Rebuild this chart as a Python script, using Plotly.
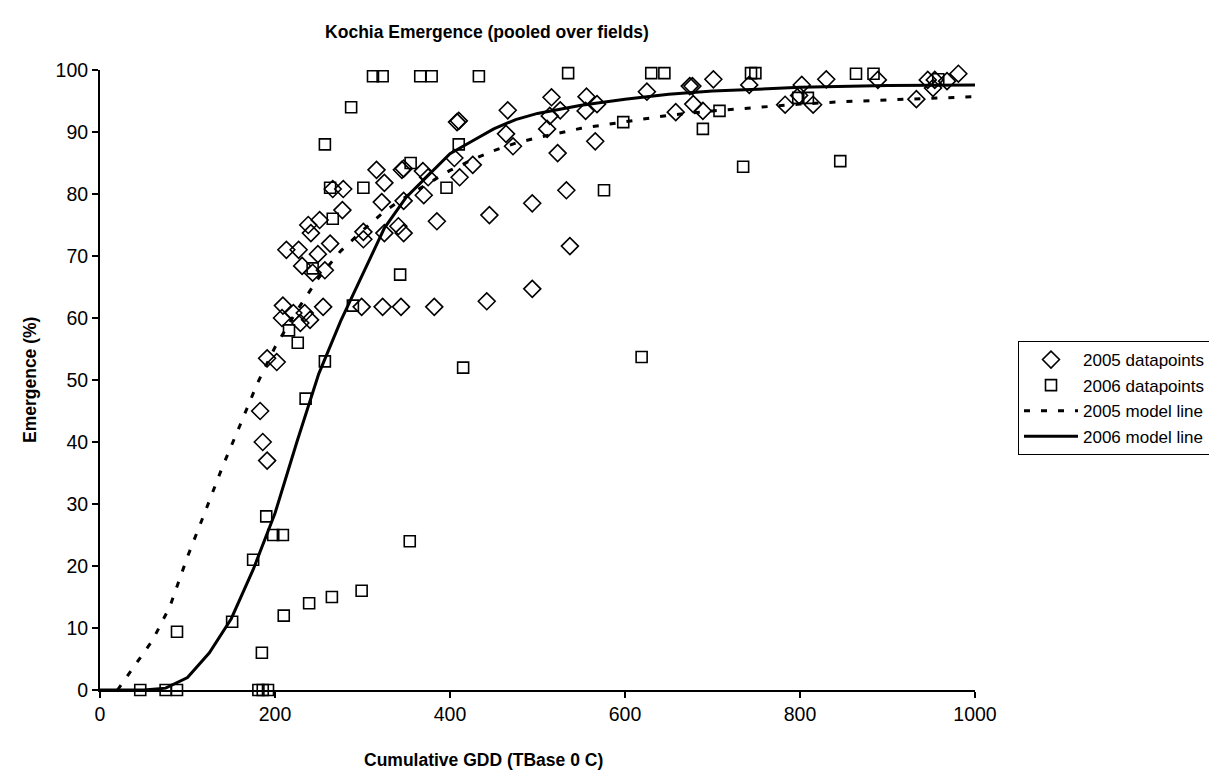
import plotly.graph_objects as go

# ---- data ----
# 2005 datapoints (Cumulative GDD, Emergence %)
x2005 = [183, 186, 191, 191, 202, 209, 208, 221, 234, 240, 229,
         255, 299, 323, 344, 382, 442, 494,
         213, 227, 231, 243, 257, 249, 263,
         238, 241, 251, 277, 266, 278,
         301, 301, 316, 325, 322, 325,
         341, 347, 345, 347, 347, 369, 370, 375,
         385, 408, 410, 405, 411, 426, 445,
         466, 464, 472, 494, 511, 514, 516, 523, 526, 533, 537,
         555, 556, 566, 568, 625, 658, 674, 677, 678, 689, 701,
         742, 783, 799, 802, 815, 830, 889, 933, 946, 952, 954, 968, 981]
y2005 = [45, 40, 37, 53.5, 52.9, 62, 60, 60.8, 60.8, 59.7, 59.2,
         61.8, 61.8, 61.8, 61.8, 61.8, 62.7, 64.7,
         71, 71, 68.4, 67.3, 67.7, 70.3, 72,
         75, 73.7, 75.8, 77.4, 80.8, 80.8,
         73.9, 72.7, 83.9, 81.8, 78.7, 73.7,
         74.8, 73.7, 83.9, 84.1, 78.9, 83.7, 79.8, 82.7,
         75.6, 91.6, 91.8, 85.8, 82.7, 84.7, 76.6,
         93.5, 89.7, 87.7, 78.5, 90.5, 92.6, 95.6, 86.6, 93.5, 80.6, 71.6,
         93.4, 95.7, 88.5, 94.5, 96.5, 93.2, 97.4, 97.4, 94.5, 93.4, 98.5,
         97.6, 94.4, 95.9, 97.6, 94.4, 98.5, 98.4, 95.3, 98.4, 97.1, 98.4, 98.2, 99.4]

# 2006 datapoints
x2006 = [46, 75, 88, 88, 181, 186, 192,
         185, 151, 175, 190, 198, 209, 210, 239, 265, 299, 354,
         235, 257, 216, 226, 289, 243, 266, 263, 301, 257, 287,
         312, 323, 366, 379, 433, 535, 630, 645, 744, 749, 864, 884, 958, 1001,
         343, 355, 396, 410, 415, 576, 598, 619, 689, 708, 735, 798, 809, 846]
y2006 = [0, 0, 0, 9.4, 0, 0, 0,
         6, 11, 21, 28, 25, 25, 12, 14, 15, 16, 24,
         47, 53, 58, 56, 62, 68, 76, 81, 81, 88, 94,
         99, 99, 99, 99, 99, 99.5, 99.5, 99.5, 99.5, 99.5, 99.4, 99.4, 98.5, 98.2,
         67, 85, 81, 88, 52, 80.6, 91.6, 53.7, 90.5, 93.4, 84.4, 95.5, 95.5, 85.3]

# 2005 model line
x2005_model = [20, 40, 60, 80, 100, 120, 140, 160, 180, 200, 225, 250, 275, 300,
               325, 350, 375, 400, 425, 450, 475, 500, 550, 600, 650, 700,
               750, 800, 850, 900, 1000]
y2005_model = [0, 4, 8, 13.5, 21.5, 28.7, 36, 42.7, 49.5, 55.3, 61.2, 66.5, 70.8, 74.1,
               77.2, 79.6, 81.7, 83.8, 85.5, 87, 88.2, 89.1, 90.6, 91.7, 92.7, 93.4,
               94, 94.5, 94.9, 95.2, 95.7]

# 2006 model line
x2006_model = [0, 50, 75, 100, 125, 150, 175, 200, 225, 250, 275, 300, 325, 350,
               375, 400, 425, 450, 475, 500, 550, 600, 650, 700, 800, 900, 1000]
y2006_model = [0, 0, 0.3, 2, 6, 11.5, 19.4, 28.5, 40, 51, 59.5, 67, 74.5, 79.5,
               83, 86.5, 88.5, 90.5, 92, 93, 94.3, 95.3, 96.1, 96.6, 97.2, 97.5, 97.6]

x_ticks = [0, 200, 400, 600, 800, 1000]
y_ticks = list(range(0, 101, 10))

FONT = "Arial, Liberation Sans, sans-serif"

fig = go.Figure()
fig.add_trace(go.Scatter(
    x=x2005, y=y2005, mode="markers", name="2005 datapoints", legendgroup="a",
    marker=dict(symbol="diamond-open", size=13, color="black", line=dict(width=1.6, color="black")),
    cliponaxis=False))
fig.add_trace(go.Scatter(
    x=x2006, y=y2006, mode="markers", name="2006 datapoints", legendgroup="b",
    marker=dict(symbol="square-open", size=11, color="black", line=dict(width=1.6, color="black")),
    cliponaxis=False))
fig.add_trace(go.Scatter(
    x=x2005_model, y=y2005_model, mode="lines", name="2005 model line", legendgroup="c",
    line=dict(color="black", width=3, dash="6px,11px"), cliponaxis=False))
fig.add_trace(go.Scatter(
    x=x2006_model, y=y2006_model, mode="lines", name="2006 model line", legendgroup="d",
    line=dict(color="black", width=3), cliponaxis=False))

axis_common = dict(
    showline=True, linecolor="black", linewidth=2, mirror=False,
    ticks="outside", ticklen=6, tickwidth=2, tickcolor="black",
    showgrid=False, zeroline=False,
    tickfont=dict(family=FONT, size=19.5, color="black"),
)

# page body has an 8px margin, so the figure is 8px smaller and margins shifted
fig.update_layout(
    width=1209, height=770,
    paper_bgcolor="white", plot_bgcolor="white",
    margin=dict(l=92, r=242, t=62, b=88, autoexpand=False),
    title=dict(text="<b>Kochia Emergence (pooled over fields)</b>",
               x=479 / 1209, xanchor="center", xref="container",
               y=1 - 24 / 770, yanchor="middle", yref="container",
               font=dict(family=FONT, size=17.5, color="black")),
    xaxis=dict(range=[0, 1000], tickvals=x_ticks, **axis_common),
    yaxis=dict(range=[0, 100], tickvals=y_ticks, **axis_common),
    showlegend=True,
    legend=dict(x=(1018 - 100) / 875, y=(690 - 341) / 620, xanchor="left", yanchor="top",
                bordercolor="black", borderwidth=1, bgcolor="white",
                font=dict(family=FONT, size=17, color="black"),
                traceorder="grouped", tracegroupgap=0.5, itemwidth=54),
    annotations=[
        dict(text="<b>Cumulative GDD (TBase 0 C)</b>", xref="paper", yref="paper",
             x=(483 - 100) / 875, y=(690 - 760) / 620, xanchor="center", yanchor="middle",
             showarrow=False, font=dict(family=FONT, size=17.5, color="black")),
        dict(text="<b>Emergence (%)</b>", xref="paper", yref="paper",
             x=(30 - 100) / 875, y=0.5, xanchor="center", yanchor="middle", textangle=-90,
             showarrow=False, font=dict(family=FONT, size=17.5, color="black")),
    ],
)

fig.write_html("out.html")
